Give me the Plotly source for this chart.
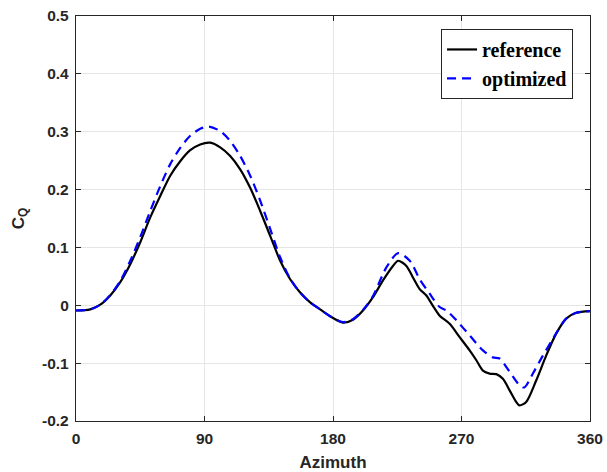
import plotly.graph_objects as go

# Azimuth (deg) and torque coefficient readings
ref_x = [0, 10, 17, 24, 31, 38, 45, 52, 59, 66, 73, 80, 87, 94, 101, 108, 115, 122, 129, 136,
         143, 150, 157, 164, 171, 178, 187, 194, 201, 208, 215, 222, 225.6, 231.4, 236, 240.7,
         245.4, 250, 254.7, 261.7, 268.7, 275.7, 280.4, 285, 289.7, 294.4, 299, 303.7, 308.3,
         310.6, 315.3, 322.3, 329.3, 336.3, 343.3, 350.3, 360]
ref_y = [-0.009, -0.007, 0.001, 0.017, 0.040, 0.071, 0.109, 0.152, 0.189, 0.224, 0.249, 0.268,
         0.278, 0.281, 0.273, 0.258, 0.235, 0.203, 0.163, 0.120, 0.077, 0.045, 0.022, 0.005,
         -0.007, -0.019, -0.030, -0.025, -0.009, 0.014, 0.043, 0.068, 0.077, 0.068, 0.048, 0.028,
         0.017, -0.001, -0.018, -0.032, -0.055, -0.078, -0.095, -0.113, -0.118, -0.119, -0.127,
         -0.147, -0.167, -0.173, -0.167, -0.130, -0.087, -0.049, -0.023, -0.013, -0.010]

opt_x = [0, 10, 17, 24, 31, 38, 45, 52, 59, 66, 73, 80, 87, 93, 101, 108, 115, 122, 129, 136,
         143, 150, 157, 164, 171, 178, 187, 194, 201, 208, 217.5, 225.6, 233.8, 240.7, 247.7,
         254.7, 259.4, 266.4, 275.7, 285, 292, 296.7, 303.7, 310.6, 314, 320, 327, 334, 343.3,
         350.3, 360]
opt_y = [-0.009, -0.007, 0.001, 0.018, 0.042, 0.077, 0.118, 0.163, 0.206, 0.244, 0.272, 0.293,
         0.305, 0.309, 0.301, 0.284, 0.258, 0.224, 0.181, 0.132, 0.083, 0.046, 0.022, 0.005,
         -0.007, -0.019, -0.029, -0.024, -0.008, 0.016, 0.066, 0.090, 0.077, 0.045, 0.020,
         -0.003, -0.009, -0.026, -0.052, -0.078, -0.090, -0.092, -0.115, -0.138, -0.142, -0.118,
         -0.087, -0.058, -0.023, -0.013, -0.010]

x_ticks = [0, 90, 180, 270, 360]
y_ticks = [-0.2, -0.1, 0, 0.1, 0.2, 0.3, 0.4, 0.5]
y_tick_text = ["-0.2", "-0.1", "0", "0.1", "0.2", "0.3", "0.4", "0.5"]

fig = go.Figure()
fig.add_trace(go.Scatter(x=ref_x, y=ref_y, mode="lines", name="reference",
                         line=dict(color="#000000", width=2.2, shape="spline", smoothing=0.8)))
fig.add_trace(go.Scatter(x=opt_x, y=opt_y, mode="lines", name="optimized",
                         line=dict(color="#0000FF", width=2.2, dash="9px,6px", shape="spline", smoothing=0.8)))

tickfont = dict(family="Arial, Liberation Sans, sans-serif", size=15.5, color="#262626", weight="bold")
axis_common = dict(
    showline=True, linecolor="#262626", linewidth=1.3, mirror="ticks",
    ticks="inside", ticklen=5, tickcolor="#262626", tickwidth=1.2,
    showgrid=True, gridcolor="#e6e6e6", gridwidth=1, zeroline=False,
    tickfont=tickfont, automargin=False, ticklabelstandoff=3,
)

fig.update_layout(
    width=607, height=472,
    margin=dict(l=76, r=17, t=16, b=51),
    paper_bgcolor="white", plot_bgcolor="white",
    xaxis=dict(range=[0, 360], tickvals=x_ticks, **axis_common,
               title=dict(text="Azimuth", standoff=11,
                          font=dict(family="Arial, Liberation Sans, sans-serif", size=17,
                                    color="#262626", weight="bold"))),
    yaxis=dict(range=[-0.2, 0.5], tickvals=y_ticks, ticktext=y_tick_text, **axis_common,
               title=dict(text="C<sub>Q</sub>", standoff=13,
                          font=dict(family="Arial, Liberation Sans, sans-serif", size=17,
                                    color="#262626", weight="bold"))),
    legend=dict(x=0.967, y=0.968, xanchor="right", yanchor="top",
                bgcolor="white", bordercolor="#262626", borderwidth=1,
                font=dict(family="Times New Roman, Liberation Serif, serif", size=20,
                          color="#000000", weight="bold"),
                tracegroupgap=0, itemwidth=30),
    showlegend=True,
)

fig.write_html("out.html", config={"displayModeBar": False},
               post_script="document.body.style.margin='0';document.body.style.padding='0';")
